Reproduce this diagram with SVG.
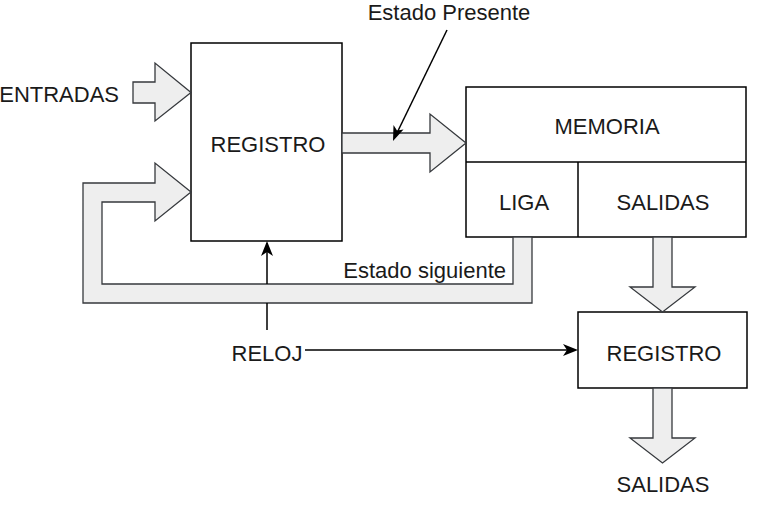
<svg xmlns="http://www.w3.org/2000/svg" width="757" height="511" viewBox="0 0 757 511">
<defs>
<style>
.box{fill:#ffffff;stroke:#000000;stroke-width:1.5}
.barrow{fill:#eeeeee;stroke:#36393d;stroke-width:1.3;stroke-linejoin:miter}
.lbl{font-family:"Liberation Sans",Arial,Helvetica,sans-serif;font-size:22px;fill:#1a1a1a}
.mid{text-anchor:middle}
.end{text-anchor:end}
.line{fill:none;stroke:#000000;stroke-width:1.5}
</style>
<marker id="ah" viewBox="0 0 10 10" refX="9" refY="5" markerWidth="6" markerHeight="6" orient="auto" markerUnits="userSpaceOnUse">
<path d="M0,0 L10,5 L0,10 L2.5,5 Z" fill="#000000"/>
</marker>
<marker id="ahb" viewBox="0 0 10 10" refX="9" refY="5" markerWidth="14" markerHeight="14" orient="auto" markerUnits="userSpaceOnUse">
<path d="M0,1 L10,5 L0,9 L2.5,5 Z" fill="#000000"/>
</marker>
</defs>
<rect width="757" height="511" fill="#ffffff"/>

<g id="registro1">
<rect class="box" x="191" y="43" width="151" height="198"/>
<text class="lbl mid" x="268" y="152">REGISTRO</text>
</g>

<g id="memoria">
<rect class="box" x="466" y="87" width="280" height="150"/>
<line class="line" x1="466" y1="162" x2="746" y2="162"/>
<line class="line" x1="578" y1="162" x2="578" y2="237"/>
<text class="lbl mid" x="607" y="134">MEMORIA</text>
</g>
<g id="liga">
<text class="lbl mid" x="524" y="210">LIGA</text>
</g>
<g id="salidas-mem">
<text class="lbl mid" x="663" y="210">SALIDAS</text>
</g>

<g id="registro2">
<rect class="box" x="578" y="312" width="169" height="76"/>
<text class="lbl mid" x="664" y="361">REGISTRO</text>
</g>

<g id="entradas">
<text class="lbl end" x="119" y="102">ENTRADAS</text>
</g>
<g id="reloj">
<text class="lbl mid" x="267" y="361">RELOJ</text>
</g>
<g id="salidas-out">
<text class="lbl mid" x="663" y="492">SALIDAS</text>
</g>
<g id="estado-presente">
<text class="lbl mid" x="449" y="20">Estado Presente</text>
</g>
<g id="estado-siguiente">
<text class="lbl end" x="506" y="278">Estado siguiente</text>
</g>

<g id="block-arrows">
<polygon class="barrow" points="133,82 155,82 155,63 191,92.5 155,121 155,103 133,103"/>
<polygon class="barrow" points="191,192 155,163 155,183 83,183 83,303 532,303 532,237 513,237 513,284 102,284 102,202 155,202 155,221"/>
<polygon class="barrow" points="342,133 430,133 430,114 466,143 430,172 430,153 342,153"/>
<polygon class="barrow" points="653,237 672,237 672,287 695,287 662.5,312 630,287 653,287"/>
<polygon class="barrow" points="653,388 672,388 672,438 695,438 662.5,463 630,438 653,438"/>
</g>

<g id="connectors">
<path class="line" d="M267,330 V303 M267,284 V243"/>
<path d="M267,241 L261,256 L267,252 L273,256 Z" fill="#000000"/>
<line class="line" x1="305" y1="350" x2="575" y2="350"/>
<path d="M578,350 L563,344 L567,350 L563,356 Z" fill="#000000"/>
<line class="line" x1="447" y1="30" x2="395" y2="137"/>
<path d="M393,141 L393.5,125 L397,130.5 L403.5,129.5 Z" fill="#000000"/>
</g>
</svg>
